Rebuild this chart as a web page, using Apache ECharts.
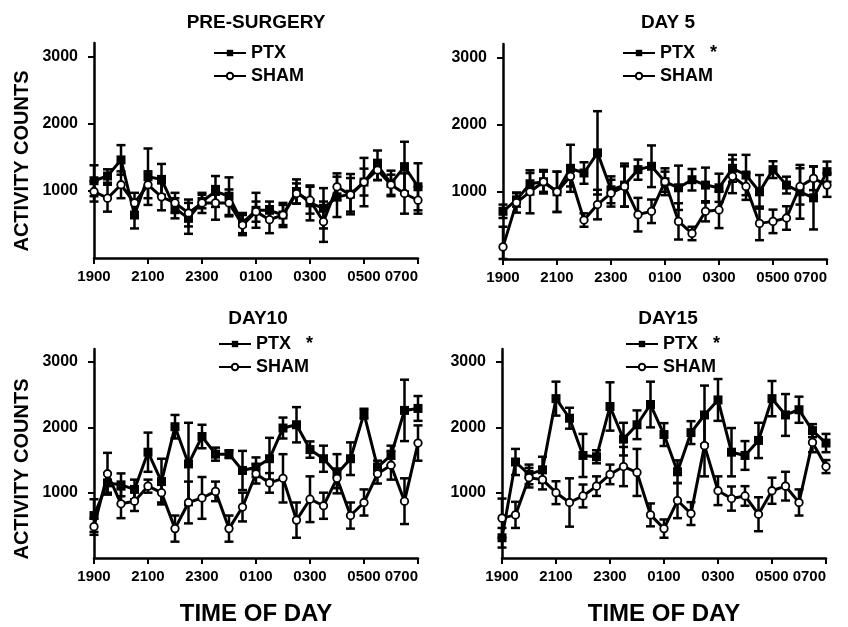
<!DOCTYPE html>
<html>
<head>
<meta charset="utf-8">
<script src="https://cdn.jsdelivr.net/npm/echarts@6/dist/echarts.min.js"></script>
<style>
  html, body { margin: 0; padding: 0; background: #fff; }
  #chart { width: 848px; height: 627px; }
</style>
</head>
<body>
<div id="chart"></div>
<script>
// half-hour bins, 1900 -> 0700
const times = ['1900', '1930', '2000', '2030', '2100', '2130', '2200', '2230', '2300', '2330',
  '0000', '0030', '0100', '0130', '0200', '0230', '0300', '0330', '0400', '0430',
  '0500', '0530', '0600', '0630', '0700']
const yTicks = [1000, 2000, 3000]
const titles = ['PRE-SURGERY', 'DAY 5', 'DAY10', 'DAY15']

const preSurgeryPtx = [1150, 1220, 1460, 640, 1210, 1170, 740, 590, 840, 990, 920, 520, 710, 710, 640, 990, 820, 740, 910, 950, 1130, 1380, 1110, 1360, 1060]
const preSurgeryPtxErr = [230, 100, 220, 200, 420, 230, 150, 230, 100, 230, 280, 150, 260, 130, 180, 180, 260, 300, 300, 300, 360, 220, 190, 370, 350]
const preSurgerySham = [990, 890, 1090, 820, 1090, 910, 820, 670, 820, 820, 820, 490, 690, 570, 640, 960, 860, 540, 1060, 940, 1130, 1310, 1090, 960, 860]
const preSurgeryShamErr = [150, 200, 200, 150, 200, 200, 150, 200, 150, 250, 200, 150, 150, 200, 150, 150, 200, 300, 200, 250, 200, 150, 150, 300, 200]

const day5Ptx = [710, 880, 1120, 1150, 1000, 1350, 1280, 1580, 1030, 1100, 1330, 1380, 1150, 1060, 1180, 1100, 1060, 1350, 1250, 1000, 1330, 1100, 1000, 910, 1300]
const day5PtxErr = [100, 100, 160, 175, 300, 350, 160, 620, 200, 320, 150, 310, 200, 330, 160, 260, 210, 200, 300, 250, 125, 125, 400, 470, 150]
const day5Sham = [180, 840, 1000, 1150, 1000, 1230, 580, 810, 980, 1080, 660, 710, 1150, 560, 380, 710, 730, 1230, 1080, 530, 560, 610, 1080, 1200, 1100]
const day5ShamErr = [300, 150, 320, 150, 300, 150, 100, 220, 200, 300, 250, 175, 150, 270, 100, 150, 270, 250, 200, 250, 175, 175, 270, 175, 175]

const day10Ptx = [650, 1150, 1120, 1050, 1620, 1170, 2010, 1440, 1860, 1590, 1590, 1340, 1390, 1520, 1990, 2040, 1660, 1520, 1290, 1520, 2210, 1390, 1570, 2260, 2290]
const day10PtxErr = [250, 150, 175, 150, 300, 350, 180, 630, 180, 100, 60, 300, 150, 320, 160, 270, 125, 200, 300, 250, 75, 100, 150, 470, 190]
const day10Sham = [480, 1290, 830, 870, 1100, 1000, 450, 850, 920, 1020, 450, 780, 1290, 1150, 1220, 580, 900, 800, 1220, 650, 850, 1290, 1420, 870, 1760]
const day10ShamErr = [125, 320, 220, 150, 100, 150, 200, 320, 320, 150, 200, 220, 150, 150, 370, 270, 350, 200, 150, 200, 200, 150, 220, 350, 270]

const day15Ptx = [310, 1470, 1280, 1350, 2440, 2140, 1570, 1550, 2320, 1820, 2040, 2350, 1890, 1320, 1920, 2190, 2420, 1620, 1570, 1800, 2440, 2190, 2270, 1950, 1760]
const day15PtxErr = [150, 200, 150, 200, 260, 160, 330, 100, 370, 250, 220, 350, 175, 175, 175, 450, 320, 370, 220, 270, 270, 320, 200, 100, 140]
const day15Sham = [610, 660, 1230, 1200, 1000, 850, 950, 1100, 1280, 1400, 1310, 660, 450, 880, 680, 1720, 1030, 910, 950, 670, 1030, 1100, 850, 1770, 1400]
const day15ShamErr = [300, 200, 150, 150, 175, 370, 175, 150, 150, 300, 360, 175, 140, 270, 175, 470, 220, 185, 150, 260, 200, 220, 200, 150, 100]

const panels = [
  { ptx: preSurgeryPtx, ptxErr: preSurgeryPtxErr, sham: preSurgerySham, shamErr: preSurgeryShamErr },
  { ptx: day5Ptx, ptxErr: day5PtxErr, sham: day5Sham, shamErr: day5ShamErr },
  { ptx: day10Ptx, ptxErr: day10PtxErr, sham: day10Sham, shamErr: day10ShamErr },
  { ptx: day15Ptx, ptxErr: day15PtxErr, sham: day15Sham, shamErr: day15ShamErr }
]

const font = 'Liberation Sans, Arial, sans-serif'
const bold = { fontFamily: font, fontWeight: 'bold', color: '#000' }

const grids = [
  { left: 94, top: 43, width: 324, height: 215 },
  { left: 503, top: 44, width: 324, height: 215 },
  { left: 94, top: 349, width: 324, height: 215 },
  { left: 502, top: 349, width: 324, height: 215 }
]
const titlePos = [[256, 13], [668, 13], [258, 309], [668, 309]]
const legendPos = [[213, 44], [622, 44], [218, 335], [625, 335]]

function errorBars(values, errs, p) {
  return {
    type: 'custom',
    xAxisIndex: p,
    yAxisIndex: p,
    z: 1,
    silent: true,
    data: values.map((v, i) => [i, Math.max(0, v - errs[i]), v + errs[i]]),
    encode: { x: 0, y: [1, 2] },
    renderItem(params, api) {
      const lo = api.coord([api.value(0), api.value(1)])
      const hi = api.coord([api.value(0), api.value(2)])
      const w = 4.5
      const style = { stroke: '#000', lineWidth: 2.5 }
      return {
        type: 'group',
        children: [
          { type: 'line', shape: { x1: hi[0], y1: hi[1], x2: lo[0], y2: lo[1] }, style },
          { type: 'line', shape: { x1: hi[0] - w, y1: hi[1], x2: hi[0] + w, y2: hi[1] }, style },
          { type: 'line', shape: { x1: lo[0] - w, y1: lo[1], x2: lo[0] + w, y2: lo[1] }, style }
        ]
      }
    }
  }
}

const series = []
panels.forEach((d, p) => {
  series.push(errorBars(d.ptx, d.ptxErr, p))
  series.push(errorBars(d.sham, d.shamErr, p))
  series.push({
    name: 'PTX', type: 'line', xAxisIndex: p, yAxisIndex: p, z: 3,
    data: d.ptx, symbol: 'rect', symbolSize: 9, showAllSymbol: true,
    itemStyle: { color: '#000' },
    lineStyle: { color: '#000', width: 3 }
  })
  series.push({
    name: 'SHAM', type: 'line', xAxisIndex: p, yAxisIndex: p, z: 3,
    data: d.sham, symbol: 'circle', symbolSize: 7.5, showAllSymbol: true,
    itemStyle: { color: '#fff', borderColor: '#000', borderWidth: 1.8 },
    lineStyle: { color: '#000', width: 3 }
  })
})

// y-axis titles sit a little below the grid middle in the original
const yNames = [[22, 161], [22, 469]]

const chart = echarts.init(document.getElementById('chart'))
chart.setOption({
  animation: false,
  title: titles.map((t, p) => ({
    text: t, left: titlePos[p][0], top: titlePos[p][1], textAlign: 'center', padding: 0,
    textStyle: { ...bold, fontSize: 19 }
  })),
  legend: legendPos.map((pos, p) => ({
    data: ['PTX', 'SHAM'],
    orient: 'vertical',
    left: pos[0], top: pos[1], padding: 0,
    itemWidth: 32, itemHeight: 8, itemGap: 5, itemTextGap: 10,
    selectedMode: false,
    textStyle: { ...bold, fontSize: 18 },
    formatter: name => (p > 0 && name === 'PTX') ? 'PTX   *' : name
  })),
  graphic: yNames.map(([x, y]) => ({
    type: 'text', x, y, rotation: Math.PI / 2,
    style: { text: 'ACTIVITY COUNTS', ...bold, fill: '#000', fontSize: 20, textAlign: 'center', textVerticalAlign: 'middle' }
  })),
  grid: grids,
  xAxis: grids.map((g, p) => ({
    type: 'category', gridIndex: p, data: times, boundaryGap: false,
    name: p >= 2 ? 'TIME OF DAY' : '',
    nameLocation: 'middle', nameGap: 44,
    nameTextStyle: { ...bold, fontSize: 24 },
    axisLine: { lineStyle: { color: '#000', width: 2.5 } },
    axisTick: { interval: 3, length: 6, lineStyle: { color: '#000', width: 2 } },
    axisLabel: { interval: 3, margin: 11, alignMaxLabel: 'right', ...bold, fontSize: 15 },
    splitLine: { show: false }
  })),
  yAxis: grids.map((g, p) => ({
    type: 'value', gridIndex: p, min: 0, max: 3200,
    axisLine: { show: true, lineStyle: { color: '#000', width: 2.5 } },
    axisTick: { show: true, length: 6, customValues: yTicks, lineStyle: { color: '#000', width: 2 } },
    axisLabel: { margin: 16, customValues: yTicks, formatter: v => String(v), ...bold, fontSize: 16 },
    splitLine: { show: false }
  })),
  series
})
</script>
</body>
</html>
